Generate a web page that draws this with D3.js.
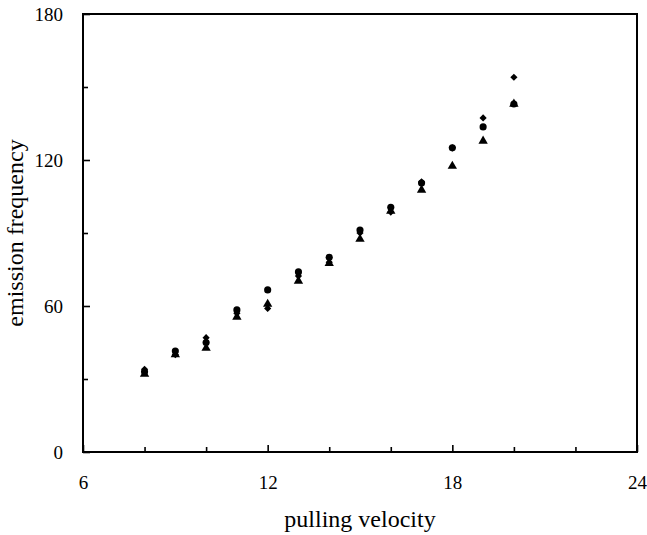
<!DOCTYPE html>
<html lang="en">
  <head>
    <meta charset="UTF-8" />
    <title>emission frequency</title>
    <style>
      body { margin: 0; background: #fff; }
      text { font-family: "Liberation Serif", "DejaVu Serif", serif; fill: #000; }
    </style>
  </head>
  <body>
    <svg id="chart" width="647" height="535"></svg>
    <script src="https://cdn.jsdelivr.net/npm/d3@7"></script>
    <script>
      // pulling velocity
      const velocity = [8, 9, 10, 11, 12, 13, 14, 15, 16, 17, 18, 19, 20];
      // three series
      const diamondVals = [34, 40, 47, 57, 59, 72.3, 78, 90, 98.6, 111, 125, 137.3, 154];
      const circleVals = [33, 41.5, 45, 58.4, 66.6, 74, 80, 91.2, 100.6, 110.5, 125, 133.6, 143];
      const triangleVals = [32, 40, 42.7, 55.5, 60.8, 70.3, 77.6, 87.5, 99, 107.7, 117.5, 127.8, 143];

      const xTicks = [6, 12, 18, 24];
      const yTicks = [0, 60, 120, 180];
      const xMinor = [8, 10, 14, 16, 20, 22];
      const yMinor = [30, 90, 150];

      const margin = { top: 14, right: 10, bottom: 83, left: 83 };
      const W = 647, H = 535;
      const w = W - margin.left - margin.right;
      const h = H - margin.top - margin.bottom;

      const svg = d3.select("#chart");
      const g = svg.append("g").attr("transform", `translate(${margin.left},${margin.top})`);

      const x = d3.scaleLinear().domain([6, 24]).range([0, w]);
      const y = d3.scaleLinear().domain([0, 180]).range([h, 0]);

      // inward ticks
      g.append("g")
        .attr("transform", `translate(0,${h})`)
        .call(d3.axisBottom(x).tickValues(xTicks).tickSize(-7).tickPadding(24).tickFormat(d3.format("d")))
        .call(a => a.select(".domain").remove());
      g.append("g")
        .attr("transform", `translate(0,${h})`)
        .call(d3.axisBottom(x).tickValues(xMinor).tickSize(-5).tickFormat(""))
        .call(a => a.select(".domain").remove());
      g.append("g")
        .call(d3.axisLeft(y).tickValues(yTicks).tickSize(-7).tickPadding(20).tickFormat(d3.format("d")))
        .call(a => a.select(".domain").remove());
      g.append("g")
        .call(d3.axisLeft(y).tickValues(yMinor).tickSize(-5).tickFormat(""))
        .call(a => a.select(".domain").remove());

      g.selectAll(".tick line").attr("stroke", "#000").attr("stroke-width", 1.6);
      g.selectAll(".tick text").style("font-size", "19px").style("font-family", "Liberation Serif");

      // frame
      g.append("rect")
        .attr("width", w)
        .attr("height", h)
        .attr("fill", "none")
        .attr("stroke", "#000")
        .attr("stroke-width", 2);

      const sym = (type, size) => d3.symbol().type(type).size(size)();
      const series = [
        { vals: diamondVals, shape: sym(d3.symbolSquare, 26), rot: 45 },
        { vals: circleVals, shape: sym(d3.symbolCircle, 40), rot: 0 },
        { vals: triangleVals, shape: sym(d3.symbolTriangle, 38), rot: 0 }
      ];

      series.forEach(s => {
        g.append("g")
          .selectAll("path")
          .data(velocity)
          .join("path")
          .attr("d", s.shape)
          .attr("fill", "#000")
          .attr("transform", (d, i) => `translate(${x(d)},${y(s.vals[i])}) rotate(${s.rot})`);
      });

      svg.append("text")
        .attr("x", margin.left + w / 2)
        .attr("y", 527)
        .attr("text-anchor", "middle")
        .style("font-size", "24px")
        .text("pulling velocity");

      svg.append("text")
        .attr("transform", `translate(23,${margin.top + h / 2}) rotate(-90)`)
        .attr("text-anchor", "middle")
        .style("font-size", "24px")
        .text("emission frequency");
    </script>
  </body>
</html>
